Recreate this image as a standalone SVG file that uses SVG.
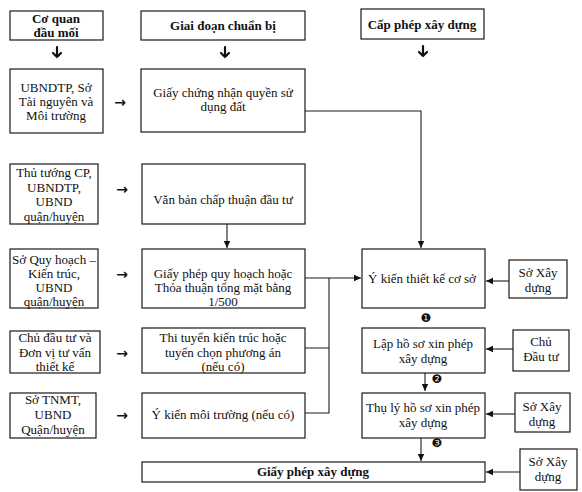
<svg xmlns="http://www.w3.org/2000/svg" width="582" height="492" viewBox="0 0 582 492">
<defs>
<style>
.b{fill:#fff;stroke:#1a1a1a;stroke-width:1.2}
.t{font-family:"Liberation Serif","Times New Roman",serif;font-size:13px;fill:#111;text-anchor:middle}
.h{font-weight:bold}
.c{fill:none;stroke:#1a1a1a;stroke-width:1.1}
.d{fill:none;stroke:#111;stroke-width:2.2;stroke-linecap:round;stroke-linejoin:round}
.n{font-family:"DejaVu Sans",sans-serif;font-size:12px;fill:#111;text-anchor:middle}
.a{font-family:"DejaVu Sans",sans-serif;font-size:14px;font-weight:bold;fill:#111;text-anchor:middle}
</style>
<marker id="ah" markerWidth="8" markerHeight="8" refX="7" refY="4" orient="auto" markerUnits="userSpaceOnUse">
<path d="M0,0.8 L7,4 L0,7.2 Z" fill="#111"/>
</marker>
</defs>
<rect width="582" height="492" fill="#fff"/>

<g id="hdr-coquan"><rect class="b" x="10" y="11" width="93" height="29"/><text class="t h" x="56" y="23">Cơ quan</text><text class="t h" x="56" y="37">đầu mối</text></g>
<g id="hdr-giaidoan"><rect class="b" x="141" y="11" width="164" height="29"/><text class="t h" x="223" y="30">Giai đoạn chuẩn bị</text></g>
<g id="hdr-capphep"><rect class="b" x="361" y="9" width="123" height="30"/><text class="t h" x="422" y="29">Cấp phép xây dựng</text></g>

<g id="l1"><rect class="b" x="10" y="69" width="93" height="64"/><text class="t" x="56" y="92">UBNDTP, Sở</text><text class="t" x="56" y="106">Tài nguyên và</text><text class="t" x="56" y="120">Môi trường</text></g>
<g id="m1"><rect class="b" x="141" y="69" width="164" height="63"/><text class="t" x="223" y="97">Giấy chứng nhận quyền sử</text><text class="t" x="223" y="111">dụng đất</text></g>

<g id="l2"><rect class="b" x="10" y="164" width="88" height="60"/><text class="t" x="54" y="177">Thủ tướng CP,</text><text class="t" x="54" y="192">UBNDTP,</text><text class="t" x="54" y="206">UBND</text><text class="t" x="54" y="221">quận/huyện</text></g>
<g id="m2"><rect class="b" x="142" y="164" width="163" height="60"/><text class="t" x="223" y="204">Văn bản chấp thuận đầu tư</text></g>

<g id="l3"><rect class="b" x="10" y="249" width="88" height="59"/><text class="t" x="54" y="264">Sở Quy hoạch –</text><text class="t" x="54" y="278">Kiến trúc,</text><text class="t" x="54" y="292">UBND</text><text class="t" x="54" y="306">quận/huyện</text></g>
<g id="m3"><rect class="b" x="142" y="249" width="163" height="59"/><text class="t" x="223" y="278">Giấy phép quy hoạch hoặc</text><text class="t" x="223" y="292">Thỏa thuận tổng mặt bằng</text><text class="t" x="223" y="306">1/500</text></g>
<g id="r3"><rect class="b" x="362" y="249" width="123" height="59"/><text class="t" x="422" y="283">Ý kiến thiết kế cơ sở</text></g>
<g id="s3"><rect class="b" x="509" y="260" width="58" height="38"/><text class="t" x="538" y="277">Sở Xây</text><text class="t" x="538" y="292">dựng</text></g>

<g id="l4"><rect class="b" x="10" y="331" width="90" height="42"/><text class="t" x="55" y="342">Chủ đầu tư và</text><text class="t" x="55" y="357">Đơn vị tư vấn</text><text class="t" x="55" y="371">thiết kế</text></g>
<g id="m4"><rect class="b" x="142" y="328" width="163" height="45"/><text class="t" x="223" y="342">Thi tuyển kiến trúc hoặc</text><text class="t" x="223" y="357">tuyển chọn phương án</text><text class="t" x="223" y="371">(nếu có)</text></g>
<g id="r4"><rect class="b" x="362" y="328" width="123" height="45"/><text class="t" x="423" y="348">Lập hồ sơ xin phép</text><text class="t" x="423" y="363">xây dựng</text></g>
<g id="s4"><rect class="b" x="513" y="330" width="56" height="41"/><text class="t" x="541" y="346">Chủ</text><text class="t" x="541" y="361">Đầu tư</text></g>

<g id="l5"><rect class="b" x="10" y="393" width="86" height="45"/><text class="t" x="53" y="404">Sở TNMT,</text><text class="t" x="53" y="419">UBND</text><text class="t" x="53" y="434">Quận/huyện</text></g>
<g id="m5"><rect class="b" x="142" y="393" width="163" height="45"/><text class="t" x="223" y="419">Ý kiến môi trường (nếu có)</text></g>
<g id="r5"><rect class="b" x="362" y="393" width="123" height="45"/><text class="t" x="423" y="412">Thụ lý hồ sơ xin phép</text><text class="t" x="423" y="427">xây dựng</text></g>
<g id="s5"><rect class="b" x="515" y="393" width="55" height="39"/><text class="t" x="542" y="411">Sở Xây</text><text class="t" x="542" y="426">dựng</text></g>

<g id="final"><rect class="b" x="142" y="462" width="343" height="20"/><text class="t h" x="313" y="476">Giấy phép xây dựng</text></g>
<g id="s6"><rect class="b" x="520" y="449" width="57" height="41"/><text class="t" x="548" y="466">Sở Xây</text><text class="t" x="548" y="481">dựng</text></g>

<g id="connectors">
<path class="d" d="M57,47 V57 M53,53 L57,57 L61,53"/>
<path class="d" d="M225,47 V57 M221,53 L225,57 L229,53"/>
<path class="d" d="M423,46 V56 M419,52 L423,56 L427,52"/>
<text class="a" x="120" y="107">→</text>
<text class="a" x="122" y="194">→</text>
<text class="a" x="122" y="279">→</text>
<text class="a" x="122" y="358">→</text>
<text class="a" x="122" y="420">→</text>
<path class="c" d="M305,111 H421 V248" marker-end="url(#ah)"/>
<path class="c" d="M227,224 V248" marker-end="url(#ah)"/>
<path class="c" d="M305,278 H361" marker-end="url(#ah)"/>
<path class="c" d="M305,348 H329 M305,413 H329 V278"/>
<path class="c" d="M509,281 H486" marker-end="url(#ah)"/>
<path class="c" d="M513,349 H486" marker-end="url(#ah)"/>
<path class="c" d="M515,414 H486" marker-end="url(#ah)"/>
<path class="c" d="M520,472 H486" marker-end="url(#ah)"/>
<path class="c" d="M425,373 V391" marker-end="url(#ah)"/>
<path class="c" d="M421,438 V461" marker-end="url(#ah)"/>
<text class="n" x="426" y="322">❶</text>
<text class="n" x="437" y="383">❷</text>
<text class="n" x="437" y="447">❸</text>
</g>
</svg>
